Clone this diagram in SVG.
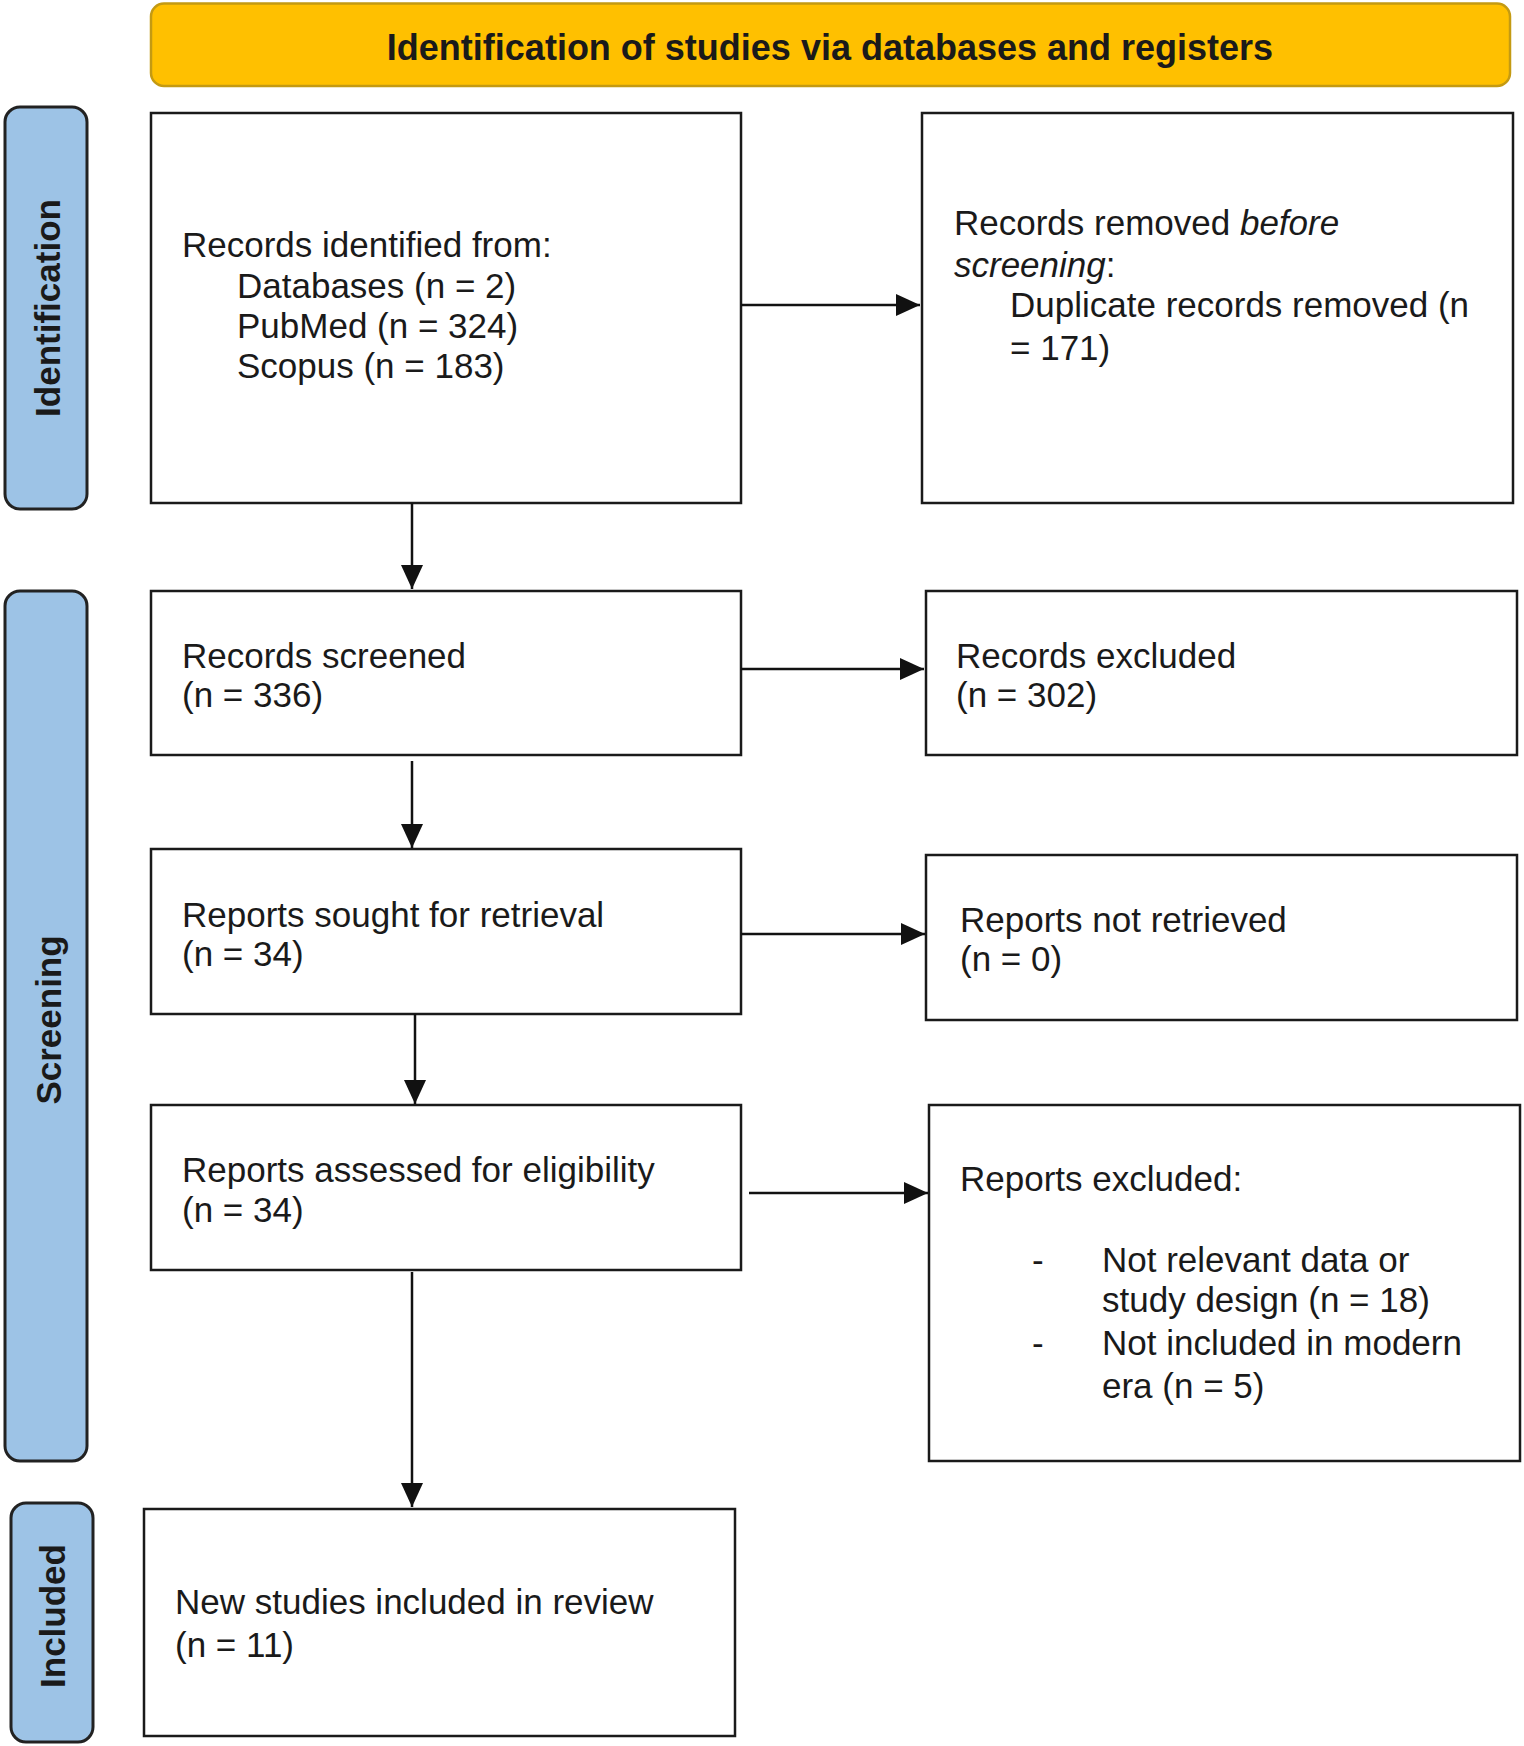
<svg xmlns="http://www.w3.org/2000/svg" width="1524" height="1746" viewBox="0 0 1524 1746">
  <style>
    .box { fill: #ffffff; stroke: #1a1a1a; stroke-width: 2.5; }
    .side { fill: #9DC3E6; stroke: #222222; stroke-width: 3; }
    .head { fill: #FFC000; stroke: #C49A12; stroke-width: 2.5; }
    .t { font-family: "Liberation Sans", Arial, sans-serif; font-size: 35px; fill: #1a1a1a; }
    .b { font-family: "Liberation Sans", Arial, sans-serif; font-size: 35px; font-weight: bold; fill: #1a1a1a; }
    .conn { stroke: #111111; stroke-width: 2.5; fill: none; marker-end: url(#arrow); }
  </style>
  <defs>
    <marker id="arrow" markerUnits="userSpaceOnUse" markerWidth="24" markerHeight="22" refX="24" refY="11" orient="auto">
      <path d="M0,0 L24,11 L0,22 Z" fill="#111111"/>
    </marker>
  </defs>
  <rect width="1524" height="1746" fill="#ffffff"/>

  <g id="header">
    <rect class="head" x="151" y="3.5" width="1359" height="82.5" rx="13"/>
    <text class="b" x="830" y="60" text-anchor="middle" style="font-size:36px">Identification of studies via databases and registers</text>
  </g>

  <g id="side-identification">
    <rect class="side" x="5" y="107" width="82" height="402" rx="15"/>
    <text class="b" transform="translate(60,308) rotate(-90)" text-anchor="middle">Identification</text>
  </g>
  <g id="side-screening">
    <rect class="side" x="5" y="591" width="82" height="870" rx="15"/>
    <text class="b" transform="translate(61,1020) rotate(-90)" text-anchor="middle">Screening</text>
  </g>
  <g id="side-included">
    <rect class="side" x="11" y="1503" width="82" height="239" rx="15"/>
    <text class="b" transform="translate(65,1616) rotate(-90)" text-anchor="middle">Included</text>
  </g>

  <g id="records-identified">
    <rect class="box" x="151" y="113" width="590" height="390"/>
    <text class="t" x="182" y="257">Records identified from:</text>
    <text class="t" x="237" y="298">Databases (n = 2)</text>
    <text class="t" x="237" y="338">PubMed (n = 324)</text>
    <text class="t" x="237" y="378">Scopus (n = 183)</text>
  </g>

  <g id="records-removed">
    <rect class="box" x="922" y="113" width="591" height="390"/>
    <text class="t" x="954" y="235">Records removed <tspan font-style="italic">before</tspan></text>
    <text class="t" x="954" y="277"><tspan font-style="italic">screening</tspan>:</text>
    <text class="t" x="1010" y="317">Duplicate records removed (n</text>
    <text class="t" x="1010" y="360">= 171)</text>
  </g>

  <g id="records-screened">
    <rect class="box" x="151" y="591" width="590" height="164"/>
    <text class="t" x="182" y="668">Records screened</text>
    <text class="t" x="182" y="707">(n = 336)</text>
  </g>

  <g id="records-excluded">
    <rect class="box" x="926" y="591" width="591" height="164"/>
    <text class="t" x="956" y="668">Records excluded</text>
    <text class="t" x="956" y="707">(n = 302)</text>
  </g>

  <g id="reports-sought">
    <rect class="box" x="151" y="849" width="590" height="165"/>
    <text class="t" x="182" y="927">Reports sought for retrieval</text>
    <text class="t" x="182" y="966">(n = 34)</text>
  </g>

  <g id="reports-not-retrieved">
    <rect class="box" x="926" y="855" width="591" height="165"/>
    <text class="t" x="960" y="932">Reports not retrieved</text>
    <text class="t" x="960" y="971">(n = 0)</text>
  </g>

  <g id="reports-assessed">
    <rect class="box" x="151" y="1105" width="590" height="165"/>
    <text class="t" x="182" y="1182">Reports assessed for eligibility</text>
    <text class="t" x="182" y="1222">(n = 34)</text>
  </g>

  <g id="reports-excluded">
    <rect class="box" x="929" y="1105" width="591" height="356"/>
    <text class="t" x="960" y="1191">Reports excluded:</text>
    <text class="t" x="1032" y="1272">-</text>
    <text class="t" x="1102" y="1272">Not relevant data or</text>
    <text class="t" x="1102" y="1312">study design (n = 18)</text>
    <text class="t" x="1032" y="1355">-</text>
    <text class="t" x="1102" y="1355">Not included in modern</text>
    <text class="t" x="1102" y="1398">era (n = 5)</text>
  </g>

  <g id="new-studies">
    <rect class="box" x="144" y="1509" width="591" height="227"/>
    <text class="t" x="175" y="1614">New studies included in review</text>
    <text class="t" x="175" y="1657">(n = 11)</text>
  </g>

  <g id="connectors">
    <line class="conn" x1="412" y1="503" x2="412" y2="589"/>
    <line class="conn" x1="412" y1="761" x2="412" y2="848"/>
    <line class="conn" x1="415" y1="1014" x2="415" y2="1104"/>
    <line class="conn" x1="412" y1="1272" x2="412" y2="1507"/>
    <line class="conn" x1="741" y1="305" x2="920" y2="305"/>
    <line class="conn" x1="741" y1="669" x2="924" y2="669"/>
    <line class="conn" x1="741" y1="934" x2="925" y2="934"/>
    <line class="conn" x1="749" y1="1193" x2="928" y2="1193"/>
  </g>
</svg>
